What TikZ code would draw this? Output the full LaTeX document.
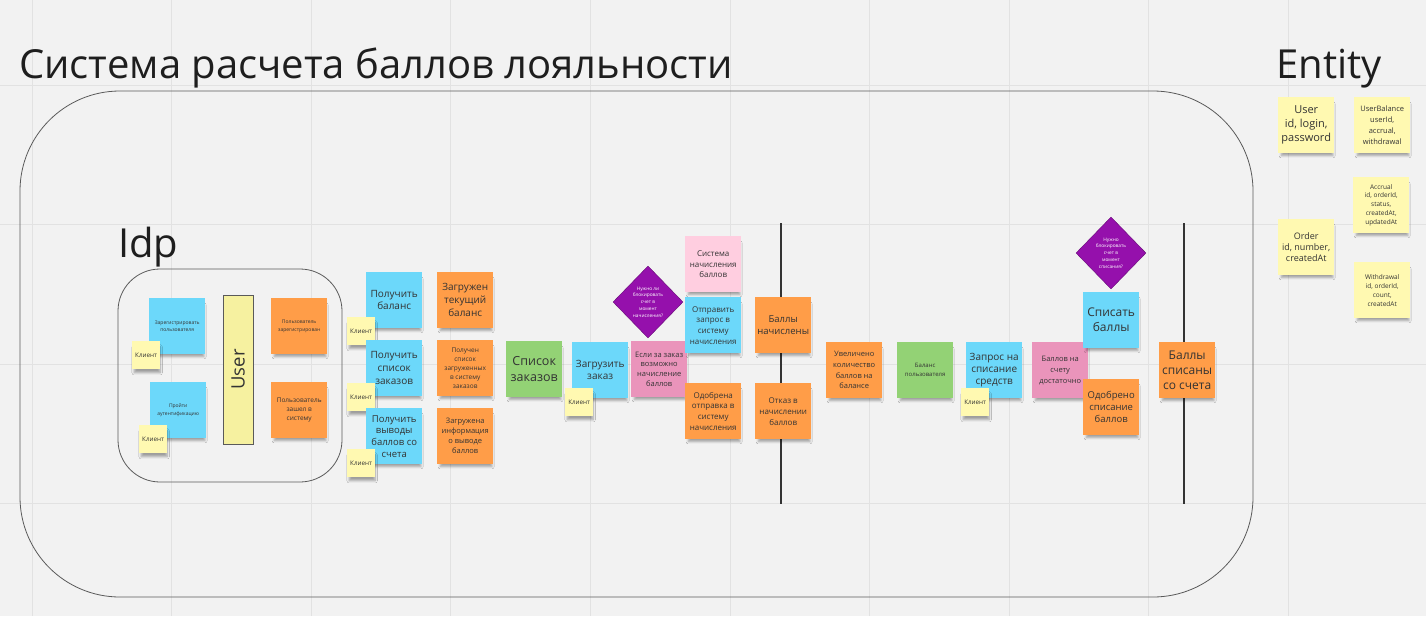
\documentclass[tikz,border=0pt]{standalone}
\usepackage{fontspec}
\setmainfont{Open Sans}
\usetikzlibrary{shapes.geometric,shadows.blur}
\definecolor{bg}{HTML}{F2F2F2}
\definecolor{gridc}{HTML}{E2E2E2}
\definecolor{stblue}{HTML}{6CD8FA}
\definecolor{storange}{HTML}{FF9D48}
\definecolor{styellow}{HTML}{FFF9B1}
\definecolor{stgreen}{HTML}{93D275}
\definecolor{stpink}{HTML}{EA94BB}
\definecolor{stlpink}{HTML}{FFCEE0}
\definecolor{stpurple}{HTML}{9510AC}
\definecolor{baryellow}{HTML}{F6F1A0}
\definecolor{ink}{HTML}{333333}
\definecolor{titleink}{HTML}{1E1E1E}
\definecolor{frame}{HTML}{5A5A5A}
\newcommand\stk[8][56]{%
  \node[note, fill=#5, minimum width=#1pt, minimum height=#1pt,
        font=\fontsize{#6pt}{#7pt}\selectfont] (#2) at (#3,#4) {#8};}
\begin{document}
\begin{tikzpicture}[x=1pt,y=-1pt,
  note/.style={anchor=north west, inner sep=0pt, align=center, text=ink,
     blur shadow={shadow xshift=1pt, shadow yshift=-5pt, shadow scale=0.92, shadow opacity=35, shadow blur radius=2.5pt, shadow blur steps=6}},
  gridline/.style={draw=gridc, line width=0.8pt},
  framebox/.style={draw=frame, line width=0.8pt},
  divider/.style={draw=black!80, line width=2.4pt},
  dia/.style={diamond, fill=stpurple, draw=stpurple!70!black, line width=0.4pt, minimum width=70pt, minimum height=72pt, inner sep=0pt},
  diatext/.style={text=white, align=center, font=\fontsize{4.8pt}{6.7pt}\selectfont, inner sep=0pt},
  bigtitle/.style={anchor=base west, inner sep=0pt, text=titleink, font=\fontsize{40pt}{46pt}\selectfont}
]
\useasboundingbox (0,0) rectangle (1426,616);
\fill[bg] (0,0) rectangle (1426,616);
\foreach \i in {0,...,9} \draw[gridline] ({32+139.6*\i},0) -- ({32+139.6*\i},616);
\foreach \j in {0,...,3} \draw[gridline] (0,{85+139.6*\j}) -- (1426,{85+139.6*\j});

% titles
\node[bigtitle] (title) at (19,78) {Система расчета баллов лояльности};
\node[bigtitle] (entity) at (1276,78) {Entity};
\node[bigtitle] (idp) at (118,257) {Idp};

% frames
\draw[framebox, rounded corners=100pt] (20,91) rectangle (1253,597);
\draw[framebox, rounded corners=42pt] (118,269) rectangle (342,482);

% dividers
\coordinate (d1t) at (781,223); \coordinate (d1b) at (781,504);
\coordinate (d2t) at (1184,223); \coordinate (d2b) at (1184,504);
\draw[divider] (d1t) -- (d1b);
\draw[divider] (d2t) -- (d2b);

% Idp
\stk{reg}{149}{298}{stblue}{5}{6.7}{Зарегистрировать\\пользователя}
\stk[28]{kl1}{132}{341}{styellow}{6.3}{8}{Клиент}
\stk{auth}{150}{382}{stblue}{5}{7.5}{Пройти\\аутентификацию}
\stk[28]{kl2}{139}{425}{styellow}{6.3}{8}{Клиент}
\node[draw=frame, line width=0.6pt, fill=baryellow, rotate=90, minimum width=149pt, minimum height=30pt, inner sep=0pt, text=ink, font=\fontsize{18.5pt}{22pt}\selectfont] (userbar) at (238,369.5) {User};
\stk{regd}{271}{298}{storange}{5}{7.5}{Пользователь\\зарегистрирован}
\stk{logged}{271}{382}{storange}{6.5}{9}{Пользователь\\зашел в\\систему}

% column 2
\stk{getbal}{366}{272}{stblue}{10}{12.4}{Получить\\баланс}
\stk[28]{kl3}{347}{317}{styellow}{6.3}{8}{Клиент}
\stk{balloaded}{437}{272}{storange}{10}{13}{Загружен\\текущий\\баланс}
\stk{getord}{366}{340}{stblue}{10}{13}{Получить\\список\\заказов}
\stk[28]{kl4}{347}{383}{styellow}{6.3}{8}{Клиент}
\stk{ordloaded}{437}{340}{storange}{6.5}{9}{Получен\\список\\загруженных\\в систему\\заказов}
\stk{getwd}{366}{408}{stblue}{9.5}{11.7}{Получить\\выводы\\баллов со\\счета}
\stk[28]{kl5}{347}{449}{styellow}{6.3}{8}{Клиент}
\stk{wdloaded}{437}{408}{storange}{7.5}{10}{Загружена\\информация\\о выводе\\баллов}

% orders
\stk{orders}{506}{341}{stgreen}{12.5}{16}{Список\\заказов}
\stk{upload}{572}{342}{stblue}{10}{12.4}{Загрузить\\заказ}
\stk[28]{kl6}{565}{388}{styellow}{6.3}{8}{Клиент}
\node[dia] (dia1) at (648,302) {};
\node[diatext] (dia1t) at (dia1.center) {Нужно ли\\блокировать\\счет в\\момент\\начисления?};
\stk{ifacc}{631}{341}{stpink}{7.5}{9.7}{Если за заказ\\возможно\\начисление\\баллов}
\stk{accsys}{685}{236}{stlpink}{8}{10.7}{Система\\начисления\\баллов}
\stk{sendreq}{685}{297}{stblue}{8}{10.7}{Отправить\\запрос в\\систему\\начисления}
\stk{sendok}{685}{383}{storange}{8}{10.7}{Одобрена\\отправка в\\систему\\начисления}

% accrual results
\stk{accrued}{755}{297}{storange}{9.5}{12.3}{Баллы\\начислены}
\stk{accfail}{755}{383}{storange}{8}{11}{Отказ в\\начислении\\баллов}
\stk{increased}{826}{342}{storange}{7.5}{10.7}{Увеличено\\количество\\баллов на\\балансе}
\stk{balance}{897}{342}{stgreen}{6}{8.7}{Баланс\\пользователя}
\stk{wdreq}{966}{342}{stblue}{10}{12.2}{Запрос на\\списание\\средств}
\stk[28]{kl7}{961}{388}{styellow}{6.3}{8}{Клиент}
\stk{enough}{1032}{342}{stpink}{7.5}{11}{Баллов на\\счету\\достаточно}
\node[dia] (dia2) at (1111,253) {};
\node[diatext] (dia2t) at (dia2.center) {Нужно\\блокировать\\счет в\\момент\\списания?};
\stk{withdraw}{1083}{292}{stblue}{12}{15}{Списать\\баллы}
\stk{wdok}{1083}{379}{storange}{9.5}{12}{Одобрено\\списание\\баллов}
\stk{withdrawn}{1159}{342}{storange}{12}{15}{Баллы\\списаны\\со счета}

% entities
\stk{eUser}{1278}{97}{styellow}{11}{14}{User\\id, login,\\password}
\stk{eBal}{1354}{97}{styellow}{7.5}{11}{UserBalance\\userId,\\accrual,\\withdrawal}
\stk{eAcc}{1353}{177}{styellow}{6.5}{8.9}{Accrual\\id, orderId,\\status,\\createdAt,\\updatedAt}
\stk{eOrd}{1278}{219}{styellow}{9}{11.3}{Order\\id, number,\\createdAt}
\stk{eWd}{1354}{262}{styellow}{6.5}{9}{Withdrawal\\id, orderId,\\count,\\createdAt}
\end{tikzpicture}
\end{document}
